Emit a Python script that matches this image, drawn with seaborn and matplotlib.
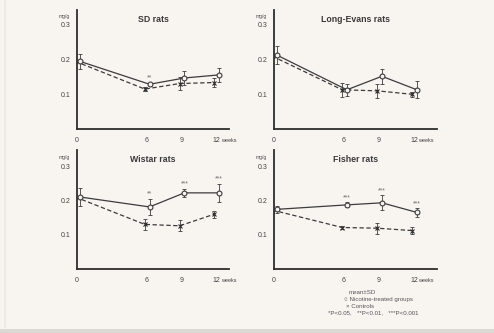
import numpy as np
import pandas as pd
import matplotlib
matplotlib.use("Agg")
import matplotlib.pyplot as plt
import seaborn as sns

# weeks of treatment
weeks = [0, 6, 9, 12]
week_labels = ["0", "6", "9", "12"]
y_ticks = [0.1, 0.2, 0.3]
y_tick_labels = ["0.1", "0.2", "0.3"]

# SD rats
sd_nic = [0.195, 0.129, 0.147, 0.156]
sd_nic_sd = [0.022, 0.005, 0.020, 0.021]
sd_ctl = [0.195, 0.115, 0.131, 0.134]
sd_ctl_sd = [0.020, 0.006, 0.020, 0.012]
sd_sig = ["", "**", "", ""]

# Long-Evans rats
le_nic = [0.213, 0.113, 0.152, 0.113]
le_nic_sd = [0.026, 0.018, 0.022, 0.025]
le_ctl = [0.210, 0.113, 0.110, 0.100]
le_ctl_sd = [0.020, 0.020, 0.020, 0.008]
le_sig = ["", "", "", ""]

# Wistar rats
wi_nic = [0.210, 0.181, 0.222, 0.222]
wi_nic_sd = [0.025, 0.024, 0.012, 0.027]
wi_ctl = [0.210, 0.130, 0.126, 0.160]
wi_ctl_sd = [0.020, 0.016, 0.016, 0.010]
wi_sig = ["", "**", "***", "***"]

# Fisher rats
fi_nic = [0.174, 0.187, 0.193, 0.165]
fi_nic_sd = [0.010, 0.007, 0.022, 0.012]
fi_ctl = [0.172, 0.121, 0.119, 0.112]
fi_ctl_sd = [0.008, 0.004, 0.016, 0.010]
fi_sig = ["", "***", "***", "***"]

titles = ["SD rats", "Long-Evans rats", "Wistar rats", "Fisher rats"]

sns.set_style("white")
plt.rcParams["font.family"] = ["Liberation Sans", "DejaVu Sans"]

W, H = 494, 333
BG = "#f8f5f1"
INK = "#3c3c3c"
fig = plt.figure(figsize=(W / 100, H / 100), dpi=100, facecolor=BG)

# faint scan edges
fig.add_artist(plt.Rectangle((0, 0), 1, 4 / H, transform=fig.transFigure,
                             color="#dcd9d5", lw=0, zorder=0))
fig.add_artist(plt.Line2D([5 / W, 5 / W], [4 / H, 1], transform=fig.transFigure,
                          color="#ebe8e4", lw=1.2, zorder=0))


def px_axes(left, top, right, bottom):
    return fig.add_axes([left / W, 1 - bottom / H, (right - left) / W, (bottom - top) / H])


panels = [
    dict(box=(77, 10, 229, 129), xmax=13.1, ymax=0.343,
         nic=sd_nic, nsd=sd_nic_sd, ctl=sd_ctl, csd=sd_ctl_sd, sig=sd_sig),
    dict(box=(274, 10, 437, 129), xmax=13.97, ymax=0.343,
         nic=le_nic, nsd=le_nic_sd, ctl=le_ctl, csd=le_ctl_sd, sig=le_sig),
    dict(box=(77, 150, 229, 269), xmax=13.1, ymax=0.347,
         nic=wi_nic, nsd=wi_nic_sd, ctl=wi_ctl, csd=wi_ctl_sd, sig=wi_sig),
    dict(box=(274, 150, 437, 269), xmax=13.97, ymax=0.347,
         nic=fi_nic, nsd=fi_nic_sd, ctl=fi_ctl, csd=fi_ctl_sd, sig=fi_sig),
]

NIC_SHIFT = 0.25
CTL_SHIFT = -0.15

for title, p in zip(titles, panels):
    ax = px_axes(*p["box"])
    ax.set_facecolor("none")
    xn = np.array(weeks) + NIC_SHIFT
    xc = np.array(weeks) + CTL_SHIFT
    df = pd.DataFrame({
        "week": np.concatenate([xn, xc]),
        "value": p["nic"] + p["ctl"],
        "group": ["Nicotine"] * 4 + ["Control"] * 4,
    })
    sns.lineplot(data=df[df.group == "Control"], x="week", y="value", ax=ax,
                 color=INK, lw=0.9, linestyle=(0, (3.5, 2)), marker="x",
                 markersize=3.0, markeredgewidth=0.8, markeredgecolor="#2a2a2a",
                 legend=False, zorder=3)
    sns.lineplot(data=df[df.group == "Nicotine"], x="week", y="value", ax=ax,
                 color=INK, lw=0.9, marker="o", markersize=3.5,
                 markerfacecolor=BG, markeredgecolor=INK, markeredgewidth=0.8,
                 legend=False, zorder=4)
    ax.errorbar(xc, p["ctl"], yerr=p["csd"], fmt="none", ecolor=INK,
                elinewidth=0.6, capsize=1.5, capthick=0.6, zorder=2)
    ax.errorbar(xn, p["nic"], yerr=p["nsd"], fmt="none", ecolor=INK,
                elinewidth=0.6, capsize=1.5, capthick=0.6, zorder=2)
    for x, v, e, s in zip(xn, p["nic"], p["nsd"], p["sig"]):
        if s:
            ax.text(x, v + e + 0.003, s, ha="center", va="bottom",
                    fontsize=4.8, color="#6a6a6a")

    ax.set_xlim(0, p["xmax"])
    ax.set_ylim(0, p["ymax"])
    ax.set_xticks(weeks)
    ax.set_xticklabels(week_labels)
    ax.set_yticks(y_ticks)
    ax.set_yticklabels(y_tick_labels)
    ax.set_xlabel("")
    ax.set_ylabel("")
    for side in ("top", "right"):
        ax.spines[side].set_visible(False)
    for side in ("left", "bottom"):
        ax.spines[side].set_color("#2e2e2e")
        ax.spines[side].set_linewidth(1.3)
    ax.tick_params(axis="both", direction="out", length=2.5, width=0.7,
                   color="#2e2e2e", labelsize=5, labelcolor="#444444", pad=2)
    ax.tick_params(axis="x", pad=3)
    # unit written right after the last tick label, on the same baseline
    ax.annotate("weeks", xy=(12, 0), xycoords=("data", "axes fraction"),
                xytext=(3.2, -9.1), textcoords="offset points",
                fontsize=4, color="#444444", ha="left", va="baseline",
                annotation_clip=False)
    ax.text(-0.6, 0.318, "mg/g", fontsize=3.6, color="#4a4a4a",
            ha="right", va="bottom", clip_on=False)
    ax.set_title(title, fontsize=6.3, fontweight="bold", color="#3a3a3a",
                 pad=0, y=0.895, x=0.5)

# key below the Fisher panel
KEY_FS = 4.4
KEY_C = "#555555"
fig.text(349 / W, 1 - 292 / H, "mean±SD", fontsize=KEY_FS, color=KEY_C, va="center")
fig.text(344 / W, 1 - 299 / H, "○ Nicotine-treated groups", fontsize=KEY_FS,
         color=KEY_C, va="center")
fig.text(346 / W, 1 - 306 / H, "× Controls", fontsize=KEY_FS, color=KEY_C, va="center")
fig.text(328 / W, 1 - 313 / H, "*P<0.05,   **P<0.01,   ***P<0.001", fontsize=KEY_FS,
         color=KEY_C, va="center")

fig.savefig("out.png", dpi=100, facecolor=BG)
